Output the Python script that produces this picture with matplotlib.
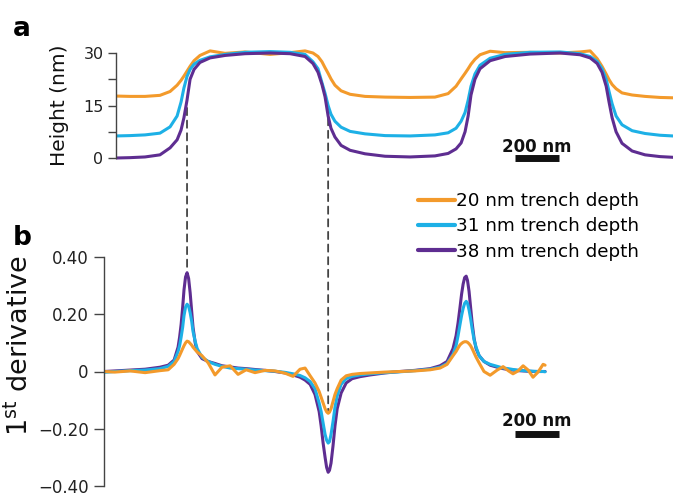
import matplotlib
matplotlib.use("Agg")
import matplotlib.pyplot as plt
from matplotlib.patches import ConnectionPatch

# ---- panel a: height profiles (x in nm, height in nm) ----
pos_a = [0, 64, 132, 200, 246, 278, 296, 309, 323, 337, 355, 382, 428, 496, 587,
         701, 792, 860, 896, 919, 937, 951, 965, 978, 996, 1024, 1065, 1133, 1224,
         1338, 1451, 1511, 1547, 1570, 1588, 1602, 1615, 1633, 1656, 1702, 1770,
         1884, 2020, 2111, 2157, 2189, 2211, 2230, 2243, 2257, 2275, 2302, 2348,
         2407, 2475, 2534]
height_20 = [17.7, 17.6, 17.6, 17.9, 19.0, 20.8, 22.2, 23.4, 24.8, 26.2, 27.8, 29.3,
             30.6, 29.9, 30.3, 29.6, 30.1, 30.6, 30.0, 29.0, 27.5, 25.8, 24.2, 22.6,
             20.8, 19.2, 18.2, 17.6, 17.4, 17.3, 17.4, 18.4, 20.5, 22.6, 24.2, 25.5,
             26.8, 28.2, 29.5, 30.5, 30.1, 30.2, 30.0, 30.3, 30.6, 28.4, 26.2, 24.0,
             22.4, 21.0, 19.8, 18.6, 18.0, 17.6, 17.3, 17.2]
height_31 = [6.3, 6.4, 6.6, 7.1, 8.9, 12.0, 16.0, 20.0, 23.3, 25.3, 26.8, 27.9,
             28.9, 29.6, 30.2, 30.4, 30.2, 29.6, 27.5, 25.5, 21.5, 18.5, 15.0, 12.5,
             10.5, 8.8, 7.6, 6.9, 6.4, 6.3, 6.6, 7.2, 8.5, 10.5, 13.0, 16.5,
             20.5, 24.0, 26.5, 28.5, 29.6, 30.2, 30.3, 29.8, 29.0, 27.6, 25.5, 22.5,
             19.0, 15.5, 12.0, 9.5, 7.8, 7.0, 6.5, 6.3]
height_38 = [0.0, 0.1, 0.3, 0.9, 2.9, 5.2, 8.0, 11.5, 16.5, 22.5, 25.3, 27.3,
             28.6, 29.3, 29.8, 30.0, 29.8, 29.0, 27.0, 24.5, 21.0, 17.5, 12.0, 8.5,
             6.0, 3.6, 2.2, 1.2, 0.5, 0.3, 0.6, 1.3, 2.6, 4.3, 7.5, 12.0,
             18.0, 22.5, 25.5, 27.8, 29.0, 29.7, 30.0, 29.5, 28.6, 27.0, 24.5, 20.5,
             16.0, 11.5, 7.5, 4.2, 2.0, 0.9, 0.4, 0.2]

# ---- panel b: first derivative of the profiles ----
pos_b = [-55, -5, 64, 132, 200, 237, 264, 282, 289, 296, 303, 309, 316, 323, 330,
         337, 344, 350, 360, 369, 391, 419, 450, 482, 519, 555, 592, 632, 678, 723,
         769, 805, 837, 860, 883, 905, 924, 933, 942, 951, 958, 965, 971, 978, 987,
         996, 1006, 1024, 1047, 1074, 1110, 1156, 1224, 1292, 1360, 1429, 1474, 1506,
         1533, 1547, 1556, 1565, 1572, 1579, 1586, 1593, 1599, 1606, 1613, 1620, 1629,
         1638, 1652, 1674, 1702, 1734, 1761, 1784, 1806, 1829, 1852, 1875, 1897,
         1920, 1943, 1952]
deriv_20 = [0.000, -0.002, 0.002, -0.004, 0.003, 0.006, 0.025, 0.045, 0.056, 0.068,
            0.080, 0.090, 0.100, 0.106, 0.104, 0.098, 0.092, 0.085, 0.076, 0.068,
            0.055, 0.030, -0.012, 0.015, 0.020, -0.010, 0.006, -0.004, 0.004, 0.002,
            -0.006, -0.017, 0.008, 0.012, -0.015, -0.040, -0.070, -0.090, -0.110, -0.130,
            -0.141, -0.146, -0.142, -0.130, -0.105, -0.080, -0.060, -0.030, -0.015, -0.010,
            -0.007, -0.005, -0.002, 0.000, 0.002, 0.006, 0.012, 0.025,
            0.055, 0.070, 0.082, 0.093, 0.098, 0.102, 0.104, 0.104, 0.102, 0.097, 0.090,
            0.080, 0.065, 0.050, 0.030, 0.000, -0.013, 0.005, 0.017, 0.003, -0.008,
            0.002, 0.020, 0.005, -0.020, -0.002, 0.025, 0.022]
deriv_31 = [-0.003, 0.000, 0.003, 0.005, 0.010, 0.018, 0.035, 0.070, 0.090, 0.120,
            0.155, 0.195, 0.225, 0.235, 0.228, 0.205, 0.175, 0.140, 0.105, 0.080,
            0.050, 0.035, 0.025, 0.018, 0.012, 0.010, 0.008, 0.005, 0.003, 0.001,
            -0.003, -0.008, -0.014, -0.022, -0.035, -0.060, -0.110, -0.140, -0.180, -0.220,
            -0.240, -0.250, -0.245, -0.220, -0.175, -0.125, -0.085, -0.045, -0.025, -0.017,
            -0.012, -0.008, -0.004, -0.001, 0.003, 0.008, 0.015, 0.028,
            0.060, 0.090, 0.125, 0.165, 0.195, 0.220, 0.238, 0.245, 0.238, 0.215, 0.185,
            0.150, 0.110, 0.085, 0.055, 0.035, 0.025, 0.018, 0.012, 0.010, 0.007,
            0.005, 0.003, 0.002, 0.001, 0.000, 0.000, -0.001]
deriv_38 = [0.000, 0.002, 0.005, 0.008, 0.015, 0.022, 0.040, 0.085, 0.120, 0.165,
            0.225, 0.285, 0.330, 0.345, 0.325, 0.275, 0.210, 0.155, 0.100, 0.070,
            0.045, 0.035, 0.028, 0.020, 0.016, 0.012, 0.010, 0.007, 0.004, 0.000,
            -0.005, -0.012, -0.020, -0.030, -0.045, -0.080, -0.140, -0.190, -0.250, -0.300,
            -0.335, -0.352, -0.345, -0.320, -0.260, -0.190, -0.130, -0.075, -0.040, -0.025,
            -0.018, -0.012, -0.005, 0.000, 0.004, 0.010, 0.020, 0.035,
            0.080, 0.125, 0.170, 0.225, 0.270, 0.305, 0.328, 0.333, 0.318, 0.280, 0.225,
            0.170, 0.115, 0.080, 0.055, 0.035, 0.022, 0.015, 0.010, 0.007, 0.005,
            0.003, 0.002, 0.001, 0.000, 0.000, 0.000, 0.000]

labels = ["20 nm trench depth", "31 nm trench depth", "38 nm trench depth"]
colors = ["#F39A2B", "#1DB0E6", "#5E2D91"]

scale_bar_nm = 200
edge_x = [323, 965]          # nm, where the dashed guides sit
edge_top = [14.3, 11.4]      # height in panel a
edge_bottom = [0.36, -0.14]  # derivative in panel b

fig = plt.figure(figsize=(6.73, 4.96), dpi=100)
ax_a = fig.add_axes([116 / 673, 1 - 165 / 496, 557 / 673, 119 / 496])
ax_b = fig.add_axes([104 / 673, 1 - 488.9 / 496, 569 / 673, 234.8 / 496])

lw = 2.2
# panel a, purple on top
for ys, c in zip([height_20, height_31, height_38], colors):
    ax_a.plot(pos_a, ys, color=c, lw=lw, solid_capstyle="round", solid_joinstyle="round")
# panel b, orange on top
lines_b = {}
for ys, c, lab in list(zip([deriv_20, deriv_31, deriv_38], colors, labels))[::-1]:
    lines_b[lab], = ax_b.plot(pos_b, ys, color=c, lw=lw, solid_capstyle="round",
                              solid_joinstyle="round", label=lab)

ax_a.set_xlim(0, 2534)
ax_a.set_ylim(-2, 32)
ax_b.set_xlim(-55, 2534)
ax_b.set_ylim(-0.41, 0.41)

spine_col = "#444444"
for ax in (ax_a, ax_b):
    for s in ("top", "right", "bottom"):
        ax.spines[s].set_visible(False)
    ax.spines["left"].set_color(spine_col)
    ax.spines["left"].set_linewidth(1.0)
    ax.xaxis.set_visible(False)
    ax.patch.set_alpha(0)

ax_a.spines["left"].set_bounds(0, 30)
ax_a.set_yticks([0, 15, 30])
ax_a.set_yticks([7.5, 22.5], minor=True)
ax_a.tick_params(axis="y", which="both", length=6, width=1, color=spine_col,
                 labelsize=11.5, pad=3, labelcolor="#222222")
ax_a.set_ylabel("Height (nm)", fontsize=14.5, color="#111111")
ax_a.yaxis.set_label_coords(-0.085, 0.5)

ax_b.spines["left"].set_bounds(-0.4, 0.4)
ax_b.set_yticks([-0.4, -0.2, 0, 0.2, 0.4])
ax_b.set_yticklabels(["\u22120.40", "\u22120.20", "0", "0.20", "0.40"])
ax_b.tick_params(axis="y", length=7, width=1, color=spine_col,
                 labelsize=12, pad=4, labelcolor="#222222")
ax_b.set_ylabel(r"1$^{\mathrm{st}}$ derivative", fontsize=19.5, color="#111111")
ax_b.yaxis.set_label_coords(-0.123, 0.61)

# scale bars
bar_x0 = 1815
ax_a.plot([bar_x0, bar_x0 + scale_bar_nm], [0, 0], color="#111111", lw=5, solid_capstyle="butt")
ax_a.text(bar_x0 + scale_bar_nm / 2, 1.8, "200 nm", ha="center", va="baseline",
          fontsize=12, fontweight="bold", color="#111111")
ax_b.plot([bar_x0, bar_x0 + scale_bar_nm], [-0.218, -0.218], color="#111111", lw=5,
          solid_capstyle="butt")
ax_b.text(bar_x0 + scale_bar_nm / 2, -0.192, "200 nm", ha="center", va="baseline",
          fontsize=12, fontweight="bold", color="#111111")

# dashed guides linking the edges in both panels
for x, yt, yb in zip(edge_x, edge_top, edge_bottom):
    con = ConnectionPatch(xyA=(x, yt), coordsA=ax_a.transData,
                          xyB=(x, yb), coordsB=ax_b.transData,
                          color="#444444", lw=1.3, linestyle=(0, (4, 3)), zorder=0)
    fig.add_artist(con)

# legend
fig.legend([lines_b[l] for l in labels], labels, loc="upper left",
           bbox_to_anchor=(418 / 673, 1 - 192 / 496), frameon=False,
           fontsize=13.2, handlelength=2.0, handletextpad=0.1, labelspacing=0.4,
           borderpad=0, borderaxespad=0)
for h in fig.legends[0].legend_handles:
    h.set_linewidth(3)

fig.text(13 / 673, 1 - 36 / 496, "a", fontsize=19, fontweight="bold", va="baseline")
fig.text(13 / 673, 1 - 245 / 496, "b", fontsize=19, fontweight="bold", va="baseline")

fig.savefig("out.png", dpi=100)
